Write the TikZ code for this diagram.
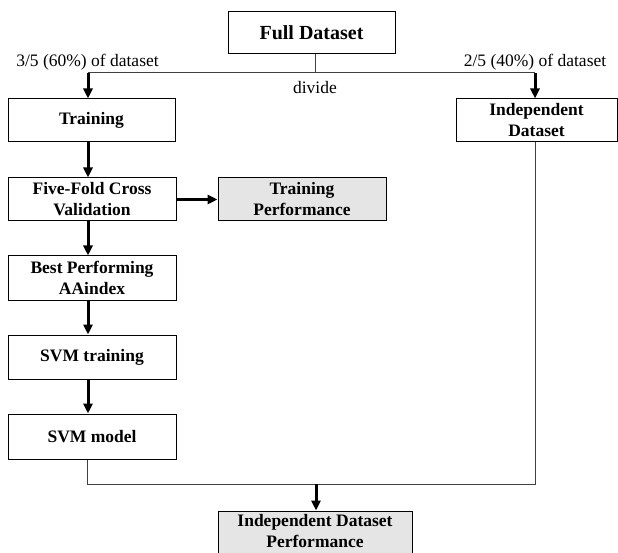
\documentclass[tikz,border=0pt]{standalone}
\usepackage{fontspec}
\setmainfont{Liberation Serif}
\usetikzlibrary{arrows.meta,calc}
\tikzset{
  box/.style={draw=black, line width=1pt, rectangle, align=center, inner sep=0pt,
    font=\bfseries\fontsize{17.5}{21}\selectfont},
  greybox/.style={box, fill=black!10},
  thinline/.style={draw=black!75, line width=1pt},
  arr/.style={draw=black, line width=3pt, -{Triangle[length=10pt,width=9pt]}},
  lbl/.style={font=\fontsize{17.5}{21}\selectfont, inner sep=0pt}
}
\begin{document}
\begin{tikzpicture}[x=1pt,y=-1pt]
\clip (0,0) rectangle (618,553);
\fill[white] (0,0) rectangle (618,553);
% nodes
\node[box, font=\bfseries\fontsize{20}{24}\selectfont, minimum width=167pt, minimum height=42pt] (full) at (311.5,33) {Full Dataset};
\node[box, minimum width=167pt, minimum height=43pt] (train) at (91.5,120.5) {Training};
\node[box, minimum width=161pt, minimum height=43pt] (indep) at (536.5,120.5) {Independent\\Dataset};
\node[box, minimum width=168pt, minimum height=43pt] (five) at (92,199.5) {Five-Fold Cross\\Validation};
\node[greybox, minimum width=168pt, minimum height=43pt] (tperf) at (302,199.5) {Training\\Performance};
\node[box, minimum width=168pt, minimum height=44pt] (best) at (92,278) {Best Performing\\AAindex};
\node[box, minimum width=168pt, minimum height=44pt] (svmt) at (92,357) {SVM training};
\node[box, minimum width=168pt, minimum height=45pt] (svmm) at (92,436.5) {SVM model};
\node[greybox, minimum width=194pt, minimum height=48pt] (iperf) at (315,535) {};
\node[box, draw=none, inner sep=0pt] (iperftext) at (315,531.5) {Independent Dataset\\Performance};
% labels
\node[lbl] (l60) at (87.5,62) {3/5 (60\%) of dataset};
\node[lbl] (l40) at (535,62) {2/5 (40\%) of dataset};
\node[lbl] (ldiv) at (315,88) {divide};
% coordinates
\coordinate (sp) at (315,73);
\coordinate (sl) at (88,73);
\coordinate (sr) at (535,73);
\coordinate (jl) at (87,484);
\coordinate (jr) at (535,484);
\coordinate (jm) at (316,484);
% connectors
\draw[thinline] (full.south -| sp) -- (sp);
\draw[thinline] (sl) -- (sr);
\draw[arr] (sl) -- (sl |- train.north);
\draw[arr] (sr) -- (sr |- indep.north);
\draw[arr] (train.south -| sl) -- (five.north -| sl);
\draw[arr] (five.east |- tperf.west) -- (tperf.west);
\draw[arr] (five.south -| sl) -- (best.north -| sl);
\draw[arr] (best.south -| sl) -- (svmt.north -| sl);
\draw[arr] (svmt.south -| sl) -- (svmm.north -| sl);
\draw[thinline] (svmm.south -| jl) -- (jl) -- (jr) -- (indep.south -| jr);
\draw[arr] (jm) -- (iperf.north -| jm);
\end{tikzpicture}
\end{document}
